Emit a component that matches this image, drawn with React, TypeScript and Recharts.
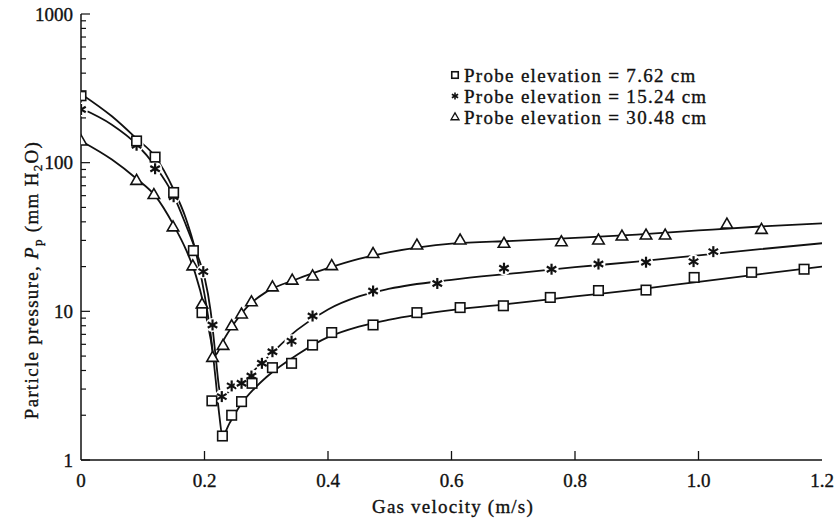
import React from 'react';
import { ComposedChart, Line, Scatter, XAxis, YAxis } from 'recharts';

const serif = "'Liberation Serif', 'Times New Roman', serif";

// axis ticks
const velocityTicks = [0, 0.2, 0.4, 0.6, 0.8, 1.0, 1.2];
const pressureTicks = [
  1, 2, 3, 4, 5, 6, 7, 8, 9, 10, 20, 30, 40, 50, 60, 70, 80, 90, 100, 200, 300, 400, 500, 600, 700, 800,
  900, 1000,
];
const decadeTicks = [1, 10, 100, 1000];

const legendLabels = [
  'Probe elevation = 7.62 cm',
  'Probe elevation = 15.24 cm',
  'Probe elevation = 30.48 cm',
];

// measured points, gas velocity (m/s) vs particle pressure (mm H2O)
const probe762 = [
  { x: 0, y: 282 }, { x: 0.09, y: 140 }, { x: 0.12, y: 109 }, { x: 0.15, y: 63 }, { x: 0.182, y: 25.6 },
  { x: 0.196, y: 9.8 }, { x: 0.212, y: 2.5 }, { x: 0.229, y: 1.45 }, { x: 0.244, y: 2.0 }, { x: 0.26, y: 2.47 },
  { x: 0.277, y: 3.28 }, { x: 0.31, y: 4.18 }, { x: 0.341, y: 4.47 }, { x: 0.375, y: 5.93 }, { x: 0.406, y: 7.2 },
  { x: 0.473, y: 8.1 }, { x: 0.544, y: 9.8 }, { x: 0.614, y: 10.6 }, { x: 0.684, y: 10.9 }, { x: 0.76, y: 12.4 },
  { x: 0.838, y: 13.8 }, { x: 0.915, y: 13.9 }, { x: 0.993, y: 16.9 }, { x: 1.086, y: 18.3 }, { x: 1.171, y: 19.2 },
];
const probe1524 = [
  { x: 0, y: 228 }, { x: 0.09, y: 131 }, { x: 0.12, y: 91 }, { x: 0.15, y: 59 }, { x: 0.198, y: 18.5 },
  { x: 0.213, y: 8.1 }, { x: 0.228, y: 2.67 }, { x: 0.244, y: 3.15 }, { x: 0.26, y: 3.28 }, { x: 0.276, y: 3.67 },
  { x: 0.293, y: 4.47 }, { x: 0.31, y: 5.35 }, { x: 0.341, y: 6.3 }, { x: 0.375, y: 9.3 }, { x: 0.473, y: 13.7 },
  { x: 0.577, y: 15.4 }, { x: 0.685, y: 19.5 }, { x: 0.762, y: 19.2 }, { x: 0.838, y: 20.8 }, { x: 0.915, y: 21.4 },
  { x: 0.992, y: 21.6 }, { x: 1.024, y: 25.2 },
];
const probe3048 = [
  { x: 0, y: 140 }, { x: 0.09, y: 76 }, { x: 0.118, y: 61 }, { x: 0.149, y: 37 }, { x: 0.181, y: 20.2 },
  { x: 0.196, y: 11.2 }, { x: 0.213, y: 4.9 }, { x: 0.23, y: 5.9 }, { x: 0.244, y: 8.0 }, { x: 0.26, y: 9.6 },
  { x: 0.276, y: 11.6 }, { x: 0.31, y: 14.6 }, { x: 0.342, y: 16.2 }, { x: 0.375, y: 17.3 }, { x: 0.406, y: 20.3 },
  { x: 0.473, y: 24.5 }, { x: 0.544, y: 27.9 }, { x: 0.614, y: 30.2 }, { x: 0.685, y: 28.7 }, { x: 0.778, y: 29.4 },
  { x: 0.838, y: 30.2 }, { x: 0.876, y: 32.1 }, { x: 0.915, y: 32.6 }, { x: 0.946, y: 32.6 }, { x: 1.046, y: 38.6 },
  { x: 1.102, y: 35.6 },
];

// fitted curves as drawn in the figure
const fit762 = [
  { x: 0, y: 290 }, { x: 0.05, y: 205 }, { x: 0.09, y: 145 }, { x: 0.12, y: 110 }, { x: 0.15, y: 66 },
  { x: 0.17, y: 42 }, { x: 0.185, y: 26 }, { x: 0.2, y: 13 }, { x: 0.21, y: 7 }, { x: 0.218, y: 3.5 },
  { x: 0.224, y: 2 }, { x: 0.229, y: 1.45 }, { x: 0.24, y: 1.75 }, { x: 0.26, y: 2.4 }, { x: 0.28, y: 3.0 },
  { x: 0.3, y: 3.6 }, { x: 0.35, y: 5.1 }, { x: 0.4, y: 6.7 }, { x: 0.45, y: 7.9 }, { x: 0.5, y: 8.8 },
  { x: 0.6, y: 10.2 }, { x: 0.7, y: 11.3 }, { x: 0.8, y: 12.6 }, { x: 0.9, y: 14.0 }, { x: 1.0, y: 15.8 },
  { x: 1.1, y: 17.8 }, { x: 1.2, y: 20 },
];
const fit1524 = [
  { x: 0, y: 232 }, { x: 0.05, y: 180 }, { x: 0.09, y: 133 }, { x: 0.12, y: 95 }, { x: 0.15, y: 60 },
  { x: 0.17, y: 38 }, { x: 0.19, y: 23 }, { x: 0.2, y: 17 }, { x: 0.21, y: 10 }, { x: 0.218, y: 5 },
  { x: 0.224, y: 3 }, { x: 0.228, y: 2.65 }, { x: 0.24, y: 2.9 }, { x: 0.26, y: 3.4 }, { x: 0.28, y: 4.0 },
  { x: 0.3, y: 4.8 }, { x: 0.35, y: 7.5 }, { x: 0.4, y: 10.3 }, { x: 0.45, y: 12.6 }, { x: 0.5, y: 14.2 },
  { x: 0.6, y: 16.3 }, { x: 0.7, y: 18.0 }, { x: 0.8, y: 19.8 }, { x: 0.9, y: 21.6 }, { x: 1.0, y: 23.8 },
  { x: 1.1, y: 26.2 }, { x: 1.2, y: 28.7 },
];
const fit3048 = [
  { x: 0, y: 140 }, { x: 0.05, y: 105 }, { x: 0.09, y: 78 }, { x: 0.12, y: 60 }, { x: 0.15, y: 38 },
  { x: 0.17, y: 26 }, { x: 0.185, y: 18 }, { x: 0.2, y: 10.5 }, { x: 0.21, y: 6.5 }, { x: 0.215, y: 5 },
  { x: 0.22, y: 5.2 }, { x: 0.23, y: 6.3 }, { x: 0.25, y: 8.5 }, { x: 0.27, y: 10.8 }, { x: 0.3, y: 13.5 },
  { x: 0.35, y: 16.5 }, { x: 0.4, y: 19.5 }, { x: 0.45, y: 22.5 }, { x: 0.5, y: 25 }, { x: 0.55, y: 27 },
  { x: 0.6, y: 28.5 }, { x: 0.7, y: 29.8 }, { x: 0.8, y: 31.2 }, { x: 0.9, y: 32.8 }, { x: 1.0, y: 35 },
  { x: 1.1, y: 37.2 }, { x: 1.2, y: 39 },
];

const ink = '#111';
// scanned type looks a bit heavier than plain Times
const textInk = { fill: ink, stroke: ink, strokeWidth: 0.35, fontFamily: serif };

function SquareMark({ cx, cy, s = 9.5 }: any) {
  return <rect x={cx - s / 2} y={cy - s / 2} width={s} height={s} fill="#fff" stroke={ink} strokeWidth={1.6} />;
}

function StarMark({ cx, cy, s = 5.5, w = 2.2 }: any) {
  const arms = [90, 30, 150].map((a) => {
    const r = (a * Math.PI) / 180;
    return [Math.cos(r) * s, Math.sin(r) * s];
  });
  return (
    <g>
      <circle cx={cx} cy={cy} r={s + 1.5} fill="#fff" stroke="none" />
      {arms.map(([dx, dy], i) => (
        <line key={i} x1={cx - dx} y1={cy - dy} x2={cx + dx} y2={cy + dy} stroke={ink} strokeWidth={w} />
      ))}
    </g>
  );
}

function TriangleMark({ cx, cy, s = 11.5, w = 1.6 }: any) {
  const h = (s * Math.sqrt(3)) / 2;
  const pts = `${cx},${cy - h * 0.6} ${cx - s / 2},${cy + h * 0.4} ${cx + s / 2},${cy + h * 0.4}`;
  return <polygon points={pts} fill="#fff" stroke={ink} strokeWidth={w} />;
}

function BottomTick({ x, y, payload }: any) {
  const v = payload.value;
  return (
    <g>
      {v > 0 && v < 1.2 && <line x1={x} y1={y} x2={x} y2={y - 9} stroke={ink} strokeWidth={1.3} />}
      <text x={x} y={y + 27} textAnchor="middle" fontSize={19} {...textInk}>
        {v === 0 ? '0' : v.toFixed(1)}
      </text>
    </g>
  );
}

function TopTick({ x, y, payload }: any) {
  const v = payload.value;
  if (v <= 0 || v >= 1.2) return <g />;
  return <line x1={x} y1={y} x2={x} y2={y + 9} stroke={ink} strokeWidth={1.3} />;
}

function LeftTick({ x, y, payload }: any) {
  const v = payload.value;
  const major = decadeTicks.includes(v);
  return (
    <g>
      <line x1={x} y1={y} x2={x + (major ? 9 : 5)} y2={y} stroke={ink} strokeWidth={1.2} />
      {major && (
        <text x={x - 8} y={y} dy="0.35em" textAnchor="end" fontSize={19} {...textInk}>
          {v}
        </text>
      )}
    </g>
  );
}

function RightTick({ x, y, payload }: any) {
  const v = payload.value;
  const major = decadeTicks.includes(v);
  return <line x1={x} y1={y} x2={x - (major ? 9 : 5)} y2={y} stroke={ink} strokeWidth={1.2} />;
}

const legendMarks = [
  (cx: number, cy: number) => <SquareMark cx={cx} cy={cy} s={6.5} />,
  (cx: number, cy: number) => <StarMark cx={cx} cy={cy} s={3.6} w={1.6} />,
  (cx: number, cy: number) => <TriangleMark cx={cx} cy={cy} s={8} w={1.3} />,
];

export default function App() {
  return (
    <div style={{ position: 'absolute', left: 0, top: 0, background: '#fff' }}>
      <ComposedChart width={836} height={525} margin={{ top: 14, right: 14, bottom: 0, left: 0 }}>
        <XAxis
          xAxisId="b"
          type="number"
          dataKey="x"
          domain={[0, 1.2]}
          ticks={velocityTicks}
          interval={0}
          allowDataOverflow
          height={65}
          tickSize={0}
          tickMargin={0}
          tick={<BottomTick />}
          axisLine={{ stroke: ink, strokeWidth: 1.5 }}
          tickLine={false}
        />
        <XAxis
          xAxisId="t"
          orientation="top"
          type="number"
          dataKey="x"
          domain={[0, 1.2]}
          ticks={velocityTicks}
          interval={0}
          allowDataOverflow
          height={0}
          tickSize={0}
          tickMargin={0}
          tick={<TopTick />}
          axisLine={{ stroke: ink, strokeWidth: 1.5 }}
          tickLine={false}
        />
        <YAxis
          yAxisId="l"
          type="number"
          dataKey="y"
          scale="log"
          domain={[1, 1000]}
          ticks={pressureTicks}
          interval={0}
          allowDataOverflow
          width={81}
          tickSize={0}
          tickMargin={0}
          tick={<LeftTick />}
          axisLine={{ stroke: ink, strokeWidth: 1.5 }}
          tickLine={false}
        />
        <YAxis
          yAxisId="r"
          orientation="right"
          type="number"
          dataKey="y"
          scale="log"
          domain={[1, 1000]}
          ticks={pressureTicks}
          interval={0}
          allowDataOverflow
          width={0}
          tickSize={0}
          tickMargin={0}
          tick={<RightTick />}
          axisLine={{ stroke: ink, strokeWidth: 1.5 }}
          tickLine={false}
        />

        {[fit762, fit1524, fit3048].map((fit, i) => (
          <Line
            key={'fit' + i}
            xAxisId="b"
            yAxisId="l"
            data={fit}
            dataKey="y"
            type="monotone"
            stroke={ink}
            strokeWidth={1.8}
            dot={false}
            activeDot={false}
            isAnimationActive={false}
          />
        ))}
        <Scatter xAxisId="b" yAxisId="l" data={probe3048} dataKey="y" shape={(p: any) => <TriangleMark cx={p.cx} cy={p.cy} />} isAnimationActive={false} />
        <Scatter xAxisId="b" yAxisId="l" data={probe1524} dataKey="y" shape={(p: any) => <StarMark cx={p.cx} cy={p.cy} />} isAnimationActive={false} />
        <Scatter xAxisId="b" yAxisId="l" data={probe762} dataKey="y" shape={(p: any) => <SquareMark cx={p.cx} cy={p.cy} />} isAnimationActive={false} />
        <Scatter xAxisId="t" yAxisId="r" data={probe762} dataKey="y" shape={() => <g />} isAnimationActive={false} />

        {/* legend */}
        {legendLabels.map((label, i) => {
          const cy = 75 + i * 21;
          return (
            <g key={label}>
              {legendMarks[i](455, cy)}
              <text x={464} y={cy} dy="0.35em" fontSize={19} letterSpacing={1.3} {...textInk}>
                {label}
              </text>
            </g>
          );
        })}

        {/* axis titles */}
        <text x={453} y={513} textAnchor="middle" fontSize={19} letterSpacing={1.2} {...textInk}>
          Gas velocity (m/s)
        </text>
        <text
          transform="translate(31,280) rotate(-90)"
          textAnchor="middle"
          dy="0.35em"
          fontSize={19}
          letterSpacing={1.3}
          {...textInk}
        >
          {'Particle pressure, '}
          <tspan fontStyle="italic">P</tspan>
          <tspan fontSize={13} dy={4}>p</tspan>
          <tspan dy={-4}>{' (mm H'}</tspan>
          <tspan fontSize={13} dy={4}>2</tspan>
          <tspan dy={-4}>O)</tspan>
        </text>
      </ComposedChart>
    </div>
  );
}
